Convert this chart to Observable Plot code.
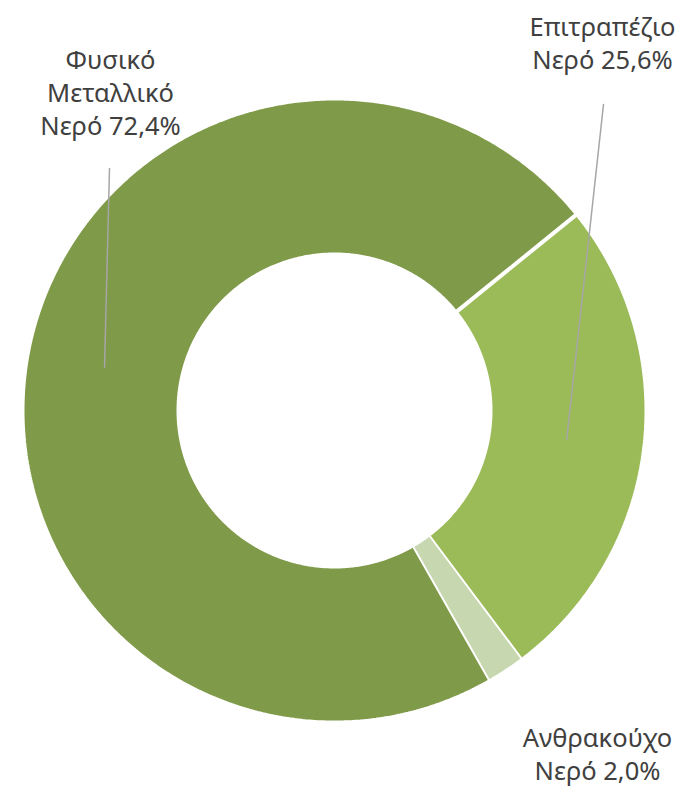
<!DOCTYPE html>
<html>
<head>
<meta charset="utf-8">
<script src="https://cdn.jsdelivr.net/npm/d3@7"></script>
<script src="https://cdn.jsdelivr.net/npm/@observablehq/plot@0.6"></script>
<style>
  html, body { margin: 0; padding: 0; background: #fff; }
  #chart { width: 684px; height: 787px; }
</style>
</head>
<body>
<div id="chart"></div>
<script>
// ---- data ----
const categories = ["Επιτραπέζιο Νερό", "Ανθρακούχο Νερό", "Φυσικό Μεταλλικό Νερό"];
const labelTexts = ["Επιτραπέζιο\nΝερό 25,6%", "Ανθρακούχο\nΝερό 2,0%", "Φυσικό\nΜεταλλικό\nΝερό 72,4%"];
const shares = [25.6, 2.0, 72.4];
const colors = ["#9BBB59", "#C7D7AF", "#7F9A48"];

// ---- layout ----
const W = 684, H = 787;
const cx = 334, cy = 410;          // centre in pixels
const rOuter = 312, rInner = 156;
const startDeg = 51;               // first slice rotation (clockwise from 12 o'clock)
const labelPos = [[268, 369], [263, -342], [-224, 319]];   // label block centres (data units)
const leaderStart = [[269, 306], null, [-225, 242]];       // leader-line label ends (data units)

const total = d3.sum(shares);
let acc = startDeg;
const slices = shares.map((v, i) => {
  const a0 = acc, a1 = acc + v / total * 360;
  acc = a1;
  return {cat: categories[i], i, a0, a1, mid: (a0 + a1) / 2};
});
const rad = d => d * Math.PI / 180;
const pt = (r, deg) => ({x: r * Math.sin(rad(deg)), y: r * Math.cos(rad(deg))});

const poly = [];
for (const s of slices) {
  const n = Math.max(4, Math.ceil((s.a1 - s.a0) / 0.5));
  for (let k = 0; k <= n; k++) poly.push({...pt(rOuter, s.a0 + (s.a1 - s.a0) * k / n), cat: s.cat});
  for (let k = n; k >= 0; k--) poly.push({...pt(rInner, s.a0 + (s.a1 - s.a0) * k / n), cat: s.cat});
}

const leaders = [];
slices.forEach((s, i) => {
  if (!leaderStart[i]) return;
  const [lx, ly] = leaderStart[i];
  const e = pt((rOuter + rInner) / 2, s.mid);
  leaders.push({x: lx, y: ly, k: s.cat}, {x: e.x, y: e.y, k: s.cat});
});

const labels = slices.map((s, i) => ({x: labelPos[i][0], y: labelPos[i][1], text: labelTexts[i]}));

const plot = Plot.plot({
  width: W, height: H,
  margin: 0,
  x: {domain: [-cx, W - cx], axis: null},
  y: {domain: [cy - H, cy], axis: null},
  color: {domain: categories, range: colors},
  style: {background: "#fff", fontFamily: "'Noto Sans', 'DejaVu Sans', sans-serif"},
  marks: [
    Plot.line(poly, {x: "x", y: "y", z: "cat", fill: "cat", stroke: "#fff", strokeWidth: 4, strokeLinejoin: "miter"}),
    Plot.line(leaders, {x: "x", y: "y", z: "k", stroke: "#A6A6A6", strokeWidth: 1.5}),
    Plot.text(labels, {x: "x", y: "y", text: "text", fontSize: 25.5, lineHeight: 1.3, fill: "#404040", textAnchor: "middle", lineAnchor: "middle"})
  ]
});
document.getElementById("chart").appendChild(plot);
</script>
</body>
</html>
